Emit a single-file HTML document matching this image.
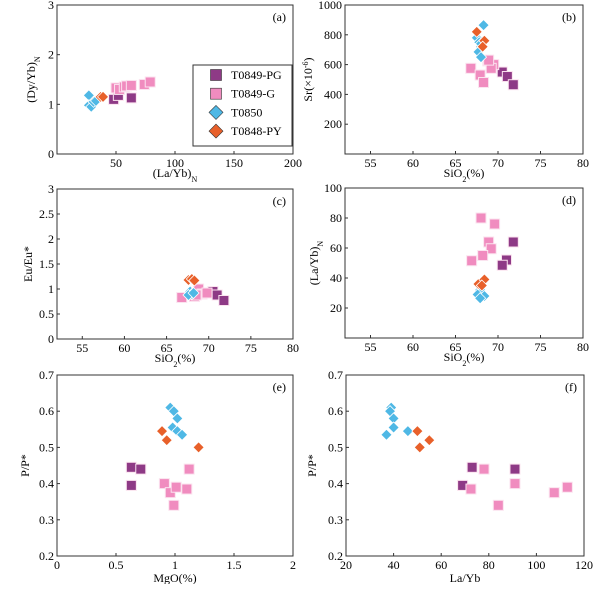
<!DOCTYPE html>
<html><head><meta charset="utf-8"><style>
body{margin:0;background:#fff;width:602px;height:584px;overflow:hidden}
svg{font-family:"Liberation Serif",serif;font-size:12px}
</style></head><body>
<svg id="chart" width="602" height="584"></svg>
<script>
// Panel (a) data: (La/Yb)N vs (Dy/Yb)N
const aPGx=[48,52,63], aPGy=[1.1,1.18,1.13];
const aGx=[50,53,57,59,63,74,79], aGy=[1.33,1.3,1.35,1.37,1.38,1.4,1.45];
const aT50x=[27,27,29,31,33], aT50y=[1.18,0.98,0.95,1.05,1.07];
const aPYx=[37,39], aPYy=[1.15,1.15];
// Panel (b): SiO2 vs Sr
const bPGx=[70.5,71.1,71.8], bPGy=[550,520,465];
const bGx=[66.8,67.9,68.3,68.8,69.5,69.2,68.9], bGy=[575,530,480,625,600,575,630];
const bT50x=[68.3,67.5,67.8,68.0,67.7,68.0,68.0], bT50y=[865,780,750,720,685,650,740];
const bPYx=[67.5,68.4,68.2], bPYy=[820,760,720];
// Panel (c): SiO2 vs Eu/Eu*
const cPGx=[70.5,71.0,71.8], cPGy=[0.95,0.88,0.77];
const cGx=[66.8,68.3,68.8,69.2,69.8,68.5], cGy=[0.83,0.85,1.0,0.9,0.92,0.88];
const cT50x=[67.8,68.0,67.6,68.2], cT50y=[0.95,0.9,0.88,0.92];
const cPYx=[67.6,68.0,68.3], cPYy=[1.18,1.2,1.17];
// Panel (d): SiO2 vs (La/Yb)N
const dPGx=[71.8,71.0,70.5], dPGy=[64,52,48.5];
const dGx=[68.0,69.6,68.9,69.2,68.2,66.9], dGy=[80,76,64,59.5,55,51.5];
const dT50x=[67.9,67.6,68.4,67.9], dT50y=[32,29,28,26.5];
const dPYx=[67.7,68.4,68.1], dPYy=[36,39,35];
// Panel (e): MgO vs P/P*
const ePGx=[0.63,0.71,0.63], ePGy=[0.445,0.44,0.395];
const eGx=[0.91,0.96,1.01,1.1,1.12,0.99], eGy=[0.4,0.375,0.39,0.385,0.44,0.34];
const eT50x=[0.96,0.99,1.02,0.98,1.02,1.06], eT50y=[0.61,0.6,0.58,0.555,0.545,0.535];
const ePYx=[0.89,0.93,1.2], ePYy=[0.545,0.52,0.5];
// Panel (f): La/Yb vs P/P*
const fPGx=[73,91,69], fPGy=[0.445,0.44,0.395];
const fGx=[78,91,72.5,84,107.5,113], fGy=[0.44,0.4,0.385,0.34,0.375,0.39];
const fT50x=[39,38.5,40,40,46,37], fT50y=[0.61,0.6,0.58,0.555,0.545,0.535];
const fPYx=[50,55,51], fPYy=[0.545,0.52,0.5];
// ticks
const aXt=[50,100,150,200], aYt=[0,1,2,3];
const siXt=[55,60,65,70,75,80];
const bYt=[200,400,600,800,1000];
const cYt=[0,0.5,1,1.5,2,2.5,3], cYl=["0","0.5","1","1.5","2","2.5","3"];
const dYt=[20,40,60,80,100];
const eXt=[0,0.5,1,1.5,2], eXl=["0","0.5","1","1.5","2"];
const pYt=[0.2,0.3,0.4,0.5,0.6,0.7], pYl=["0.2","0.3","0.4","0.5","0.6","0.7"];
const fXt=[20,40,60,80,100,120];

const NS="http://www.w3.org/2000/svg";
const svg=document.getElementById('chart');
const COL={PG:'#8e3a86',G:'#f08cbf',T50:'#4fb8e5',PY:'#e8602a'};
function mk(tag,attrs,parent){const e=document.createElementNS(NS,tag);for(const k in attrs)e.setAttribute(k,attrs[k]);(parent||svg).appendChild(e);return e;}

function panel(p){
  const g=mk('g',{});
  
  
  const sx=v=>p.L+(v-p.x0)/(p.x1-p.x0)*(p.R-p.L);
  const sy=v=>p.B-(v-p.y0)/(p.y1-p.y0)*(p.B-p.T);
  const box=mk('rect',{x:p.L,y:p.T,width:p.R-p.L,height:p.B-p.T,fill:'none',stroke:'#333','stroke-width':1},g);
  
  
  p.xt.forEach((v,i)=>{
    const x=sx(v);
    mk('line',{x1:x,x2:x,y1:p.B,y2:p.B-3,stroke:'#333'},g);
    const t=mk('text',{x:x,y:p.B+13,'text-anchor':'middle'},g);t.textContent=p.xl?p.xl[i]:v;
    
    
  });
  p.yt.forEach((v,i)=>{
    const y=sy(v);
    mk('line',{x1:p.L,x2:p.L+3,y1:y,y2:y,stroke:'#333'},g);
    const t=mk('text',{x:p.L-3,y:y+4,'text-anchor':'end'},g);t.textContent=p.yl?p.yl[i]:v;
    
    
  });
  const lab=mk('text',{x:p.R-7,y:p.T+16,'text-anchor':'end'},g);lab.textContent='('+p.id+')';
  
  
  const xt=mk('text',{x:(p.L+p.R)/2,y:p.B+p.xtOff,'text-anchor':'middle'},g);xt.innerHTML=p.xtitle;
  
  
  const yx=p.L-p.ytOff, yy=(p.T+p.B)/2;
  const yt=mk('text',{x:yx,y:yy,'text-anchor':'middle',transform:`rotate(-90 ${yx} ${yy})`},g);yt.innerHTML=p.ytitle;
  
  
  p.series.forEach(s=>{
    s.xs.forEach((xv,i)=>{
      const x=sx(xv), y=sy(s.ys[i]);
      let m;
      if(s.shape==='sq'){
        m=mk('rect',{x:x-5,y:y-5,width:10,height:10,fill:COL[s.k],stroke:'#fbe3ef','stroke-width':1},g);
      }else{
        m=mk('polygon',{points:`${x},${y-5.5} ${x+5.5},${y} ${x},${y+5.5} ${x-5.5},${y}`,fill:COL[s.k],stroke:'#fff','stroke-width':0.8},g);
      }
      
      
    });
  });
}
function S(pg,gx,t,py){return [
  {k:'PG',shape:'sq',xs:pg[0],ys:pg[1]},{k:'G',shape:'sq',xs:gx[0],ys:gx[1]},
  {k:'T50',shape:'di',xs:t[0],ys:t[1]},{k:'PY',shape:'di',xs:py[0],ys:py[1]}];}
const sub='<tspan baseline-shift="sub" font-size="8">';
panel({id:'a',L:57,R:293,T:5,B:154,x0:0,x1:200,y0:0,y1:3,xt:aXt,yt:aYt,ytOff:22,xtOff:23,
  xtitle:'(La/Yb)'+sub+'N</tspan>',ytitle:'(Dy/Yb)'+sub+'N</tspan>',
  series:S([aPGx,aPGy],[aGx,aGy],[aT50x,aT50y],[aPYx,aPYy])});
panel({id:'b',L:345,R:583,T:5,B:154,x0:52,x1:80,y0:0,y1:1000,xt:siXt,yt:bYt,ytOff:33,xtOff:23,
  xtitle:'SiO'+sub+'2</tspan>(%)',ytitle:'Sr(×10<tspan baseline-shift="super" font-size="8">-6</tspan>)',
  series:S([bPGx,bPGy],[bGx,bGy],[bT50x,bT50y],[bPYx,bPYy])});
panel({id:'c',L:57,R:293,T:189,B:339,x0:52,x1:80,y0:0,y1:3,xt:siXt,yt:cYt,yl:cYl,ytOff:25,xtOff:23,
  xtitle:'SiO'+sub+'2</tspan>(%)',ytitle:'Eu/Eu*',
  series:S([cPGx,cPGy],[cGx,cGy],[cT50x,cT50y],[cPYx,cPYy])});
panel({id:'d',L:345,R:583,T:188,B:338,x0:52,x1:80,y0:0,y1:100,xt:siXt,yt:dYt,ytOff:27,xtOff:23,
  xtitle:'SiO'+sub+'2</tspan>(%)',ytitle:'(La/Yb)'+sub+'N</tspan>',
  series:S([dPGx,dPGy],[dGx,dGy],[dT50x,dT50y],[dPYx,dPYy])});
panel({id:'e',L:57,R:293,T:375,B:556,x0:0,x1:2,y0:0.2,y1:0.7,xt:eXt,xl:eXl,yt:pYt,yl:pYl,ytOff:28,xtOff:26,
  xtitle:'MgO(%)',ytitle:'P/P*',
  series:S([ePGx,ePGy],[eGx,eGy],[eT50x,eT50y],[ePYx,ePYy])});
panel({id:'f',L:346,R:584,T:375,B:556,x0:20,x1:120,y0:0.2,y1:0.7,xt:fXt,yt:pYt,yl:pYl,ytOff:30,xtOff:26,
  xtitle:'La/Yb',ytitle:'P/P*',
  series:S([fPGx,fPGy],[fGx,fGy],[fT50x,fT50y],[fPYx,fPYy])});

// legend
const lg=mk('g',{});


mk('rect',{x:193,y:65,width:99,height:81,fill:'#fff',stroke:'#333'},lg);
const legNames=['T0849-PG','T0849-G','T0850','T0848-PY'];
const legKeys=['PG','G','T50','PY'];
legNames.forEach((n,i)=>{
  const y=75+i*18.7, x=216;
  let m;
  if(i<2) m=mk('rect',{x:x-5.5,y:y-5.5,width:11,height:11,fill:COL[legKeys[i]],stroke:'#333','stroke-width':0.6},lg);
  else m=mk('polygon',{points:`${x},${y-7} ${x+7},${y} ${x},${y+7} ${x-7},${y}`,fill:COL[legKeys[i]],stroke:'#333','stroke-width':0.6},lg);
  
  
  const t=mk('text',{x:231,y:y+4},lg);t.textContent=n;
  
  
});
</script>
</body></html>
